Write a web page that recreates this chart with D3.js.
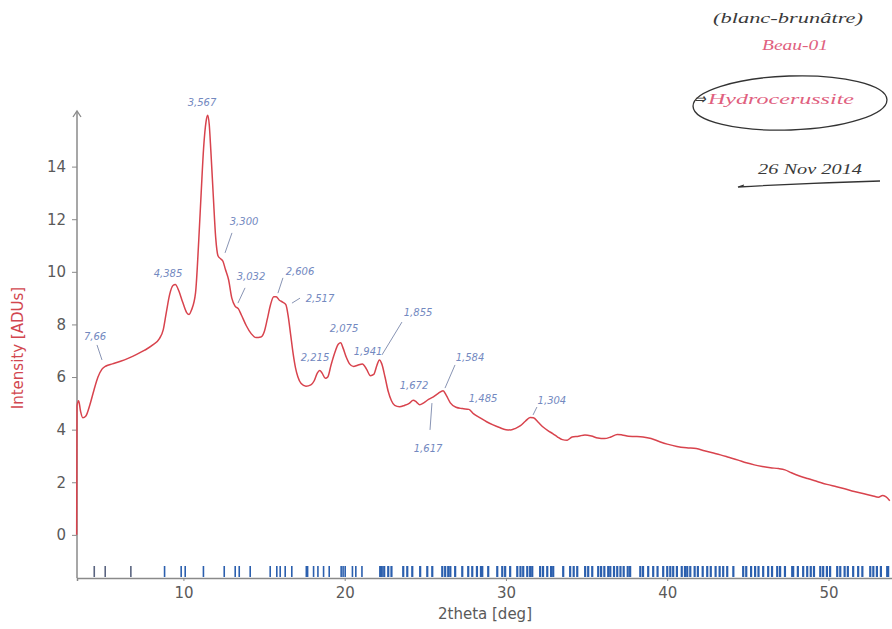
<!DOCTYPE html>
<html>
<head>
<meta charset="utf-8">
<script src="https://cdn.jsdelivr.net/npm/d3@7"></script>
<style>
  html, body { margin: 0; padding: 0; background: #fff; }
  svg { display: block; }
</style>
</head>
<body>
<svg id="chart" width="892" height="629"></svg>
<script>
// ---- data ----
const twoTheta = [3.38,3.40,3.50,3.62,3.76,3.95,4.2,4.45,4.7,4.95,5.2,5.6,6.1,6.6,7.1,7.6,8.1,8.5,8.75,8.95,9.15,9.35,9.5,9.7,9.95,10.2,10.35,10.5,10.75,10.95,11.1,11.25,11.4,11.5,11.6,11.7,11.85,12.0,12.15,12.3,12.45,12.6,12.8,13.0,13.2,13.4,13.6,13.9,14.2,14.5,14.8,15.0,15.2,15.4,15.6,15.75,15.95,16.15,16.35,16.5,16.65,16.8,16.95,17.1,17.3,17.6,17.9,18.1,18.3,18.45,18.6,18.8,18.95,19.15,19.4,19.6,19.75,19.9,20.1,20.3,20.55,20.8,21.1,21.35,21.6,21.8,22.0,22.15,22.3,22.5,22.7,22.9,23.1,23.4,23.7,24.0,24.25,24.45,24.65,24.9,25.2,25.5,25.8,26.1,26.3,26.55,26.9,27.3,27.7,28.0,28.4,28.8,29.2,29.6,30.0,30.3,30.6,30.9,31.2,31.5,31.7,32.0,32.3,32.6,32.9,33.2,33.5,33.8,34.1,34.5,34.9,35.3,35.7,36.1,36.5,36.9,37.2,37.6,38.0,38.5,39.0,39.5,40.0,40.6,41.2,41.8,42.3,42.8,43.3,43.8,44.4,44.9,45.4,45.9,46.4,46.9,47.3,47.7,48.2,48.7,49.3,49.9,50.5,51.0,51.6,52.2,52.7,53.1,53.35,53.55,53.8];
const intensity = [0.0,4.9,5.1,4.7,4.45,4.52,4.95,5.5,6.0,6.3,6.42,6.5,6.6,6.72,6.86,7.02,7.22,7.45,7.8,8.5,9.15,9.48,9.52,9.3,8.85,8.45,8.38,8.55,9.2,11.2,13.0,14.7,15.7,15.95,15.6,14.6,12.9,11.3,10.6,10.5,10.4,10.1,9.7,9.0,8.7,8.6,8.35,7.95,7.65,7.5,7.52,7.7,8.2,8.75,9.05,9.05,8.92,8.85,8.75,8.3,7.6,6.9,6.35,6.0,5.75,5.65,5.7,5.85,6.15,6.25,6.15,5.95,6.0,6.45,6.95,7.25,7.3,7.1,6.75,6.5,6.4,6.45,6.5,6.3,6.05,6.1,6.45,6.65,6.5,6.0,5.45,5.1,4.92,4.87,4.92,5.0,5.12,5.05,4.95,5.02,5.15,5.25,5.38,5.48,5.3,5.02,4.85,4.8,4.77,4.6,4.45,4.3,4.18,4.08,4.0,3.99,4.05,4.15,4.32,4.46,4.45,4.28,4.1,3.96,3.85,3.72,3.62,3.6,3.72,3.75,3.8,3.76,3.68,3.66,3.72,3.82,3.8,3.75,3.74,3.72,3.66,3.55,3.45,3.36,3.31,3.28,3.2,3.12,3.04,2.95,2.84,2.74,2.66,2.6,2.55,2.52,2.47,2.36,2.24,2.14,2.03,1.92,1.83,1.75,1.65,1.56,1.49,1.43,1.5,1.45,1.3];

// reference reflection positions (2theta) drawn as the rug at the bottom
const refPeaks = [4.47,5.15,6.74,8.83,9.86,10.11,11.24,12.53,13.21,13.46,14.14,15.38,15.79,16.0,16.31,16.72,17.62,17.70,18.07,18.34,18.69,19.04,19.78,19.90,20.03,20.48,20.69,21.07,
  22.2,22.3,22.45,22.7,22.9,23.63,23.88,24.19,24.68,25.12,25.43,26.05,26.23,26.42,26.55,26.85,27.29,27.66,27.91,28.2,28.45,28.53,28.9,29.46,29.77,29.95,30.26,30.7,30.9,31.07,31.32,31.5,31.63,32.12,32.3,32.56,32.8,32.93,33.55,33.98,34.2,34.42,34.91,35.1,35.35,35.72,35.9,36.1,36.34,36.47,36.7,36.9,37.1,37.3,37.55,37.7,38.33,38.5,38.82,39.13,39.4,39.75,40.0,
  40.19,40.37,40.6,40.9,41.1,41.24,41.43,41.7,41.9,42.2,42.48,42.7,43.0,43.25,43.47,43.72,44.1,44.71,44.9,45.2,45.45,45.66,45.95,46.26,46.5,46.82,47.0,47.3,47.75,47.81,48.1,48.43,48.68,48.9,49.1,49.49,49.67,49.9,50.1,50.54,50.73,51.0,51.2,51.53,51.84,52.1,52.59,52.78,53.0,53.25,53.64,53.7];

const yTicks = [0,2,4,6,8,10,12,14];
const xTicks = [10,20,30,40,50];

// peak annotations (handwritten d-spacings)
const annLabels = ["7,66","4,385","3,567","3,300","3,032","2,606","2,517","2,215","2,075","1,941","1,855","1,672","1,617","1,584","1,485","1,304"];
const annX = [4.52,9.04,11.15,13.76,14.19,17.23,18.47,18.16,19.96,21.45,24.55,24.3,25.17,27.77,28.58,32.85];
const annY = [7.41,9.80,16.30,11.78,9.69,9.88,8.85,6.61,7.71,6.84,8.32,5.55,3.15,6.61,5.05,4.97];
// leader lines [x1,y1,x2,y2] in data units (null = none)
const annLeaders = [[4.64,7.22,4.95,6.65],null,null,[13.01,11.48,12.58,10.72],[13.82,9.39,13.38,8.81],[16.17,9.77,15.86,9.19],[17.23,9.00,16.73,8.81],null,null,null,[23.55,8.09,22.31,6.84],null,[25.29,3.99,25.41,5.01],[26.84,6.46,26.22,5.58],null,[31.92,4.86,31.68,4.56]];

// ---- drawing ----
const svg = d3.select("#chart");
const x = d3.scaleLinear().domain([3.4, 54]).range([77, 893]);
const y = d3.scaleLinear().domain([-1.64, 16]).range([578, 114]);

const axisColor = "#8a8a8a";
const textColor = "#5a5a5a";
const font = "DejaVu Sans, Verdana, sans-serif";

// y axis
const yAxis = svg.append("g").attr("transform", `translate(${x(3.4)},0)`)
  .call(d3.axisLeft(y).tickValues(yTicks).tickSize(5).tickPadding(6).tickFormat(d3.format("d")));
yAxis.select(".domain").remove();
yAxis.selectAll(".tick line").attr("stroke", axisColor);
yAxis.selectAll(".tick text").attr("fill", textColor).style("font", `15px ${font}`);
svg.append("line").attr("x1", x(3.4)).attr("x2", x(3.4)).attr("y1", y(-1.64)).attr("y2", 112)
  .attr("stroke", axisColor).attr("stroke-width", 1.5);
svg.append("path").attr("d", `M${x(3.4)-4},${117} L${x(3.4)},${111} L${x(3.4)+4},${117}`)
  .attr("fill", "none").attr("stroke", axisColor).attr("stroke-width", 1.3);

// x axis
const xAxis = svg.append("g").attr("transform", `translate(0,${y(-1.64)})`)
  .call(d3.axisBottom(x).tickValues(xTicks).tickSize(3).tickPadding(6).tickFormat(d3.format("d")));
xAxis.select(".domain").attr("stroke", axisColor).attr("stroke-width", 1.5);
xAxis.selectAll(".tick line").attr("stroke", axisColor);
xAxis.selectAll(".tick text").attr("fill", textColor).style("font", `15px ${font}`);

// axis titles
svg.append("text").attr("x", 485).attr("y", 619).attr("text-anchor", "middle")
  .attr("fill", textColor).style("font", `15px ${font}`).text("2theta [deg]");
svg.append("text").attr("transform", "translate(23,348) rotate(-90)").attr("text-anchor", "middle")
  .attr("fill", "#d2474f").style("font", `15px ${font}`).text("Intensity [ADUs]");

// rug of reference reflections
svg.append("g").selectAll("line").data(refPeaks).join("line")
  .attr("x1", d => x(d)).attr("x2", d => x(d))
  .attr("y1", y(-1.64) - 1).attr("y2", y(-1.64) - 12)
  .attr("stroke", d => d < 8 ? "#5a6480" : "#2b5fae")
  .attr("stroke-width", d => d < 22 ? 1.6 : 2.2);

// diffraction curve
const pts = twoTheta.map((t, i) => [t, intensity[i]]);
svg.append("path").datum(pts)
  .attr("d", d3.line().x(d => x(d[0])).y(d => y(d[1])).curve(d3.curveMonotoneX))
  .attr("fill", "none").attr("stroke", "#d8434d").attr("stroke-width", 1.5)
  .attr("stroke-linejoin", "round");

// annotations
const annColor = "#7389bf";
annLeaders.forEach(l => {
  if (!l) return;
  svg.append("line").attr("x1", x(l[0])).attr("y1", y(l[1])).attr("x2", x(l[2])).attr("y2", y(l[3]))
    .attr("stroke", "#8894b4").attr("stroke-width", 1);
});
svg.append("g").selectAll("text").data(annLabels).join("text")
  .attr("x", (d, i) => x(annX[i])).attr("y", (d, i) => y(annY[i]))
  .attr("text-anchor", "middle").attr("fill", annColor)
  .style("font", `italic 10px "DejaVu Sans", sans-serif`)
  .text(d => d);

// handwritten notes (top right)
const hand = `italic 15px "Liberation Serif", serif`;
function note(tx, ty, len, col, txt) {
  svg.append("text").attr("x", tx).attr("y", ty).attr("textLength", len)
    .attr("lengthAdjust", "spacingAndGlyphs").attr("fill", col).style("font", hand).text(txt);
}
note(713, 23, 150, "#3a3a3a", "(blanc-brunâtre)");
note(762, 50, 66, "#e0607e", "Beau-01");
svg.append("ellipse").attr("cx", 790).attr("cy", 103).attr("rx", 97).attr("ry", 27)
  .attr("transform", "rotate(-2 790 103)")
  .attr("fill", "none").attr("stroke", "#333").attr("stroke-width", 1.3);
note(694, 104, 12, "#3a3a3a", "⇒");
note(708, 104, 146, "#e0607e", "Hydrocerussite");
note(758, 174, 104, "#3a3a3a", "26 Nov 2014");
svg.append("path").attr("d", "M880,181 Q810,183 738,187 L744,185")
  .attr("fill", "none").attr("stroke", "#333").attr("stroke-width", 1.3);
</script>
</body>
</html>
